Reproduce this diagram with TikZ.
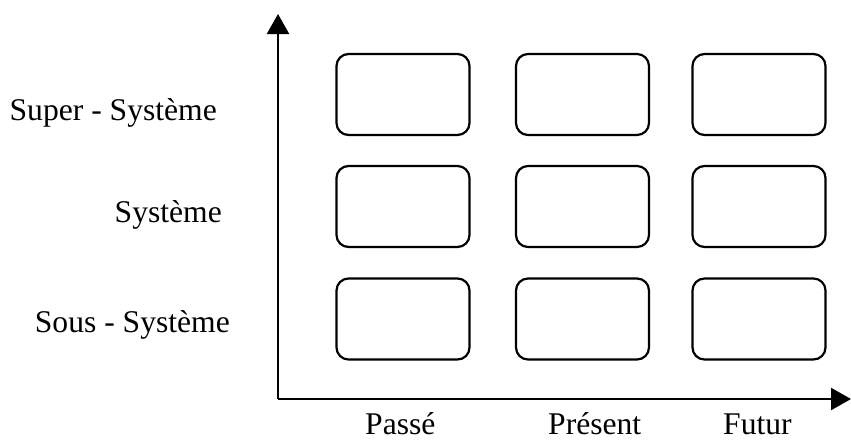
\documentclass[tikz,border=0pt]{standalone}
\usepackage{fontspec}
\setmainfont{Liberation Serif}
\usepackage{tikz}
\usetikzlibrary{positioning, arrows.meta, shapes.geometric}

\tikzset{
    cell/.style={draw, line width=2.2pt, rounded corners=12pt,
        minimum width=133pt, minimum height=81pt, inner sep=0pt},
    axis/.style={line width=2.4pt, -{Triangle[length=20pt, width=22pt]}},
    lab/.style={font=\fontsize{31.6}{36}\selectfont, inner sep=0pt}
}

\begin{document}
\begin{tikzpicture}[x=1pt, y=-1pt]
    \useasboundingbox (0,0) rectangle (851,440);

    % Axes
    \coordinate (O) at (278,399);
    \coordinate (xend) at (851,399);
    \coordinate (yend) at (278,14);
    \draw[axis] (O) -- (xend);
    \draw[axis] (O) -- (yend);

    % Grid of boxes (colonne x righe)
    \foreach \c/\x in {1/403, 2/582.5, 3/759} {
        \foreach \r/\y in {1/94.5, 2/206.5, 3/319} {
            \node[cell] (b\r\c) at (\x,\y) {};
        }
    }

    % Row labels (sinistra)
    \node[lab, anchor=base east] (super) at (217,120) {Super - Système};
    \node[lab, anchor=base east] (sys) at (222,222) {Système};
    \node[lab, anchor=base east] (sous) at (230,332) {Sous - Système};

    % Column labels (sotto)
    \node[lab, anchor=base west] (passe) at (365,434) {Passé};
    \node[lab, anchor=base west] (present) at (548,434) {Présent};
    \node[lab, anchor=base west] (futur) at (723,434) {Futur};
\end{tikzpicture}
\end{document}
